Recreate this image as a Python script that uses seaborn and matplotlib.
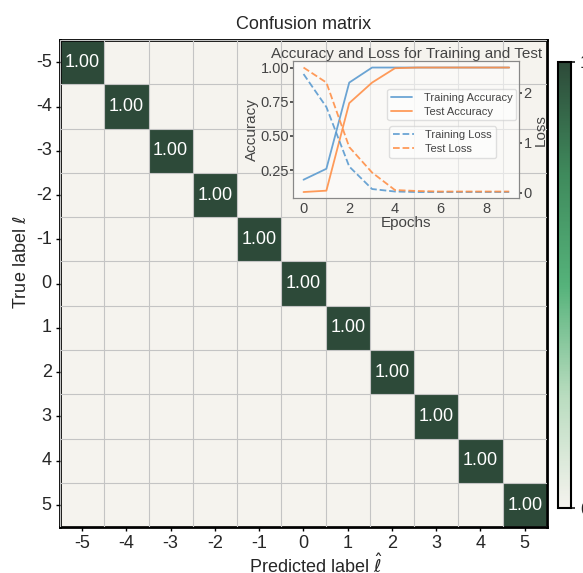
import numpy as np
import pandas as pd
import seaborn as sns
import matplotlib
matplotlib.use("Agg")
import matplotlib.pyplot as plt
from matplotlib.colors import LinearSegmentedColormap

# etiquetas de la matriz
etiquetas = [-5, -4, -3, -2, -1, 0, 1, 2, 3, 4, 5]
diagonal = [1.0] * 11

# curvas de entrenamiento
epocas = [0, 1, 2, 3, 4, 5, 6, 7, 8, 9]
train_acc = [0.18, 0.26, 0.89, 1.0, 1.0, 1.0, 1.0, 1.0, 1.0, 1.0]
test_acc = [0.09, 0.10, 0.74, 0.89, 0.995, 1.0, 1.0, 1.0, 1.0, 1.0]
train_loss = [2.37, 1.71, 0.52, 0.07, 0.02, 0.01, 0.01, 0.01, 0.01, 0.01]
test_loss = [2.50, 2.20, 0.91, 0.40, 0.05, 0.03, 0.02, 0.02, 0.02, 0.02]

sns.set_theme(style="white")
plt.rcParams['font.family'] = ['Liberation Sans', 'DejaVu Sans']
plt.rcParams['mathtext.fontset'] = 'dejavusans'

cm = pd.DataFrame(np.diag(diagonal), index=etiquetas, columns=etiquetas)
anot = np.where(cm.values > 0, cm.map(lambda v: "%.2f" % v).values, "")

cmap = LinearSegmentedColormap.from_list(
    "verde", ["#f5f3ee", "#b9dcbf", "#55b27a", "#3f8a5c", "#2d4a39"])

fig = plt.figure(figsize=(5.83, 5.73), dpi=100)
ax = fig.add_axes([0.103, 0.080, 0.835, 0.850])
cax = fig.add_axes([0.957, 0.113, 0.0223, 0.779])

sns.heatmap(cm, annot=anot, fmt="", cmap=cmap, vmin=0, vmax=1, ax=ax, cbar_ax=cax,
            linewidths=0, annot_kws={"fontsize": 13, "color": "white"})
# lineas de celda
n = len(etiquetas)
ax.set_xticks(np.arange(n + 1), minor=True)
ax.set_yticks(np.arange(n + 1), minor=True)
ax.grid(which="minor", color="#c4c4c4", lw=0.8)
ax.tick_params(which="minor", length=0)
ax.set_axisbelow(False)

for s in ax.spines.values():
    s.set_visible(True)
    s.set_linewidth(2)
    s.set_color("black")
ax.tick_params(axis="both", which="major", length=3, width=1, color="black", labelsize=13,
               left=True, bottom=True, pad=3)
ax.set_yticklabels(etiquetas, rotation=0)
ax.set_xticklabels(etiquetas, rotation=0)
ax.set_xlabel(r"Predicted label $\hat{\ell}$", fontsize=13)
ax.set_ylabel(r"True label $\ell$", fontsize=13)
ax.xaxis.set_label_coords(0.526, -0.053)
ax.yaxis.set_label_coords(-0.062, 0.544)
ax.set_title("Confusion matrix", fontsize=13, pad=8)

cb = ax.collections[0].colorbar
cb.set_ticks([0, 1])
cb.set_ticklabels(["0", "1"])
cb.ax.tick_params(labelsize=13, length=3)
cb.outline.set_edgecolor("black")
cb.outline.set_linewidth(1.5)

# grafico pequeño
axi = fig.add_axes([0.503, 0.654, 0.388, 0.239])
axi.patch.set_facecolor("white")
axi.patch.set_alpha(0.55)
azul = "#5b9bd0"
naranja = "#ff9048"
l1, = axi.plot(epocas, train_acc, color=azul, lw=1.3, alpha=0.9, label="Training Accuracy")
l2, = axi.plot(epocas, test_acc, color=naranja, lw=1.3, alpha=0.9, label="Test Accuracy")
axi.set_xlabel("Epochs", fontsize=11, color="#444444", labelpad=0)
axi.set_ylabel("Accuracy", fontsize=11, color="#444444", labelpad=1)
axi.set_title("Accuracy and Loss for Training and Test", fontsize=11, color="#444444", pad=2)
axi.set_xticks([0, 2, 4, 6, 8])
axi.set_yticks([0.25, 0.50, 0.75, 1.00])
axi.tick_params(labelsize=10.5, colors="#444444", pad=1, length=2)
axi.set_xlim(-0.45, 9.45)

ax2 = axi.twinx()
l3, = ax2.plot(epocas, train_loss, color=azul, lw=1.3, ls="--", alpha=0.9, label="Training Loss")
l4, = ax2.plot(epocas, test_loss, color=naranja, lw=1.3, ls="--", alpha=0.9, label="Test Loss")
ax2.set_ylabel("Loss", fontsize=11, color="#444444", labelpad=1)
ax2.set_yticks([0, 1, 2])
ax2.tick_params(labelsize=10.5, colors="#444444", pad=1, length=2)
for a in (axi, ax2):
    for s in a.spines.values():
        s.set_color("#888888")
        s.set_linewidth(0.8)

leg1 = ax2.legend(handles=[l1, l2], loc="upper right", bbox_to_anchor=(1.01, 0.84),
                  fontsize=8, framealpha=0.6, handlelength=1.9, handletextpad=1.0,
                  borderpad=0.35, labelspacing=0.35)
ax2.add_artist(leg1)
leg2 = ax2.legend(handles=[l3, l4], loc="upper left", bbox_to_anchor=(0.40, 0.565),
                  fontsize=8, framealpha=0.6, handlelength=1.9, handletextpad=1.0,
                  borderpad=0.35, labelspacing=0.35)
for lg in (leg1, leg2):
    for t in lg.get_texts():
        t.set_color("#444444")

fig.savefig("out.png", dpi=100)
